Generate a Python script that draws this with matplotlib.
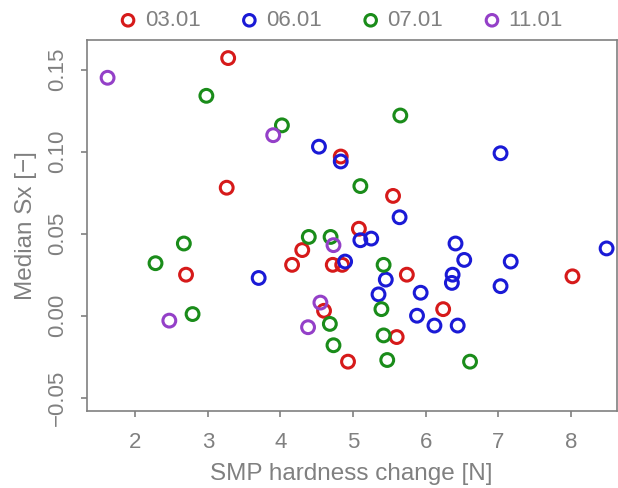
import matplotlib.pyplot as plt
import numpy as np

plt.rcParams['font.family'] = ['Liberation Sans', 'DejaVu Sans']

# data, per date
x_0301 = [3.28, 3.26, 4.83, 5.55, 5.08, 2.70, 4.30, 4.16, 4.72, 4.85, 4.60, 4.93, 5.74, 6.24, 8.02, 5.60]
y_0301 = [0.157, 0.078, 0.097, 0.073, 0.053, 0.025, 0.040, 0.031, 0.031, 0.031, 0.003, -0.028, 0.025, 0.004, 0.024, -0.013]

x_0601 = [4.53, 4.83, 7.03, 5.64, 3.70, 5.10, 5.25, 4.89, 5.45, 5.35, 5.93, 5.88, 6.12, 6.44, 6.41,
          6.53, 6.37, 6.36, 7.17, 7.03, 8.49]
y_0601 = [0.103, 0.094, 0.099, 0.060, 0.023, 0.046, 0.047, 0.033, 0.022, 0.013, 0.014, 0.000, -0.006, -0.006, 0.044,
          0.034, 0.025, 0.020, 0.033, 0.018, 0.041]

x_0701 = [2.98, 4.02, 5.65, 5.10, 2.67, 2.28, 2.79, 4.39, 4.69, 5.42, 5.39, 4.68, 4.73, 5.42, 5.47, 6.61]
y_0701 = [0.134, 0.116, 0.122, 0.079, 0.044, 0.032, 0.001, 0.048, 0.048, 0.031, 0.004, -0.005, -0.018, -0.012, -0.027, -0.028]

x_1101 = [1.62, 3.90, 2.47, 4.73, 4.55, 4.38]
y_1101 = [0.145, 0.110, -0.003, 0.043, 0.008, -0.007]

groups = ['03.01', '06.01', '07.01', '11.01']
colors = ['#d61a1a', '#1a1ad6', '#1a8c1a', '#9440c8']
xs = [x_0301, x_0601, x_0701, x_1101]
ys = [y_0301, y_0601, y_0701, y_1101]

grey = '#808080'
fig = plt.figure(figsize=(6.18, 4.88), dpi=100)
ax = fig.add_axes([0.140, 0.158, 0.858, 0.760])

for lab, c, x, y in zip(groups, colors, xs, ys):
    ax.scatter(x, y, s=85, facecolors='none', edgecolors=c, linewidths=2.2, label=lab)

ax.set_xlim(1.33, 8.63)
ax.set_ylim(-0.058, 0.168)
ax.set_xticks(np.arange(2, 9, 1))
ax.set_yticks([-0.05, 0, 0.05, 0.10, 0.15])
ax.set_yticklabels(['\u22120.05', '0.00', '0.05', '0.10', '0.15'], rotation=90, va='center')

for s in ax.spines.values():
    s.set_color(grey)
    s.set_linewidth(1.2)
ax.tick_params(colors=grey, labelcolor=grey, labelsize=16, length=4.5, width=1.2, pad=9)
ax.tick_params(axis='x', pad=11)

ax.set_xlabel('SMP hardness change [N]', color=grey, fontsize=17.5, labelpad=7)
ax.set_ylabel('Median Sx [\u2212]', color=grey, fontsize=17.5, labelpad=7)

leg = ax.legend(loc='lower center', bbox_to_anchor=(0.478, 1.0), ncol=4, frameon=False,
                fontsize=16, handlelength=1.0, handletextpad=0.25, columnspacing=1.7,
                markerscale=0.9, borderaxespad=0.0)
for t in leg.get_texts():
    t.set_color(grey)

fig.savefig('out.png', dpi=100)
